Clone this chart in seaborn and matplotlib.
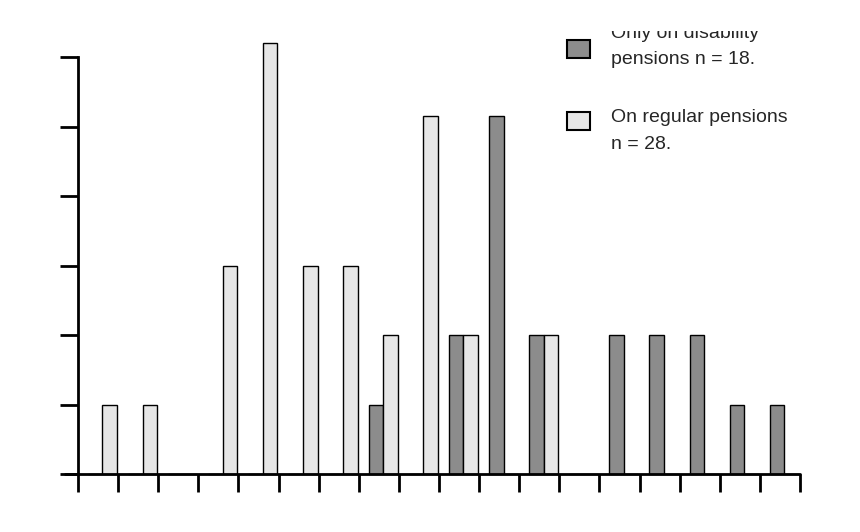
import matplotlib
matplotlib.use("Agg")
import matplotlib.pyplot as plt
import seaborn as sns
import pandas as pd
from matplotlib.patches import Rectangle

# counts per class
classes = list(range(18))
disability = [0, 0, 0, 0, 0, 0, 0, 1, 0, 2, 5.15, 2, 0, 2, 2, 2, 1, 1]
regular = [1, 1, 0, 3, 6.2, 3, 3, 2, 5.15, 2, 0, 2, 0, 0, 0, 0, 0, 0]
series = ["disability", "regular"]

df = pd.DataFrame({
    "cls": classes * 2,
    "value": disability + regular,
    "group": [series[0]] * 18 + [series[1]] * 18,
})

sns.set_style("white")
plt.rcParams["font.family"] = ["Liberation Sans", "DejaVu Sans"]

fig = plt.figure(figsize=(8.6, 5.32), dpi=100)
ax = fig.add_axes([78 / 860, 58 / 532, 722 / 860, 474 / 532])

sns.barplot(data=df, x="cls", y="value", hue="group", ax=ax,
            palette=["#8c8c8c", "#e6e6e6"], width=0.725,
            edgecolor="black", linewidth=1, legend=False, saturation=1)
for p in ax.patches:
    p.set_clip_on(False)

off = 0.61
ax.set_xlim(-off, 18 - off)
ax.set_ylim(0, 474 / 69.5)
ax.set_xticks([i - off for i in range(19)])
ax.set_xticklabels([])
ax.set_yticks(range(7))
ax.set_yticklabels([])
ax.tick_params(axis="both", direction="out", length=13, width=2, color="black",
               bottom=True, left=True)
for s in ["top", "right", "bottom"]:
    ax.spines[s].set_visible(False)
ax.spines["left"].set_linewidth(2)
ax.spines["left"].set_color("black")
ax.spines["left"].set_bounds(0, 6)
ax.axhline(0, xmin=-13 / 722, xmax=1, color="black", lw=2, clip_on=False)
ax.set_xlabel("")
ax.set_ylabel("")

# legend drawn by hand (partially cropped in the source)
def px(x, y):
    return x / 860, 1 - y / 532

fig.patches.append(Rectangle(px(567, 58), 23 / 860, 18 / 532, transform=fig.transFigure,
                             facecolor="#8c8c8c", edgecolor="black", lw=1.5))
fig.patches.append(Rectangle(px(567, 130), 23 / 860, 18 / 532, transform=fig.transFigure,
                             facecolor="#e6e6e6", edgecolor="black", lw=1.5))
fig.text(*px(611, 33), "Only on disability", fontsize=14, va="center")
fig.text(*px(611, 60), "pensions n = 18.", fontsize=14, va="center")
fig.text(*px(611, 118), "On regular pensions", fontsize=14, va="center")
fig.text(*px(611, 145), "n = 28.", fontsize=14, va="center")
# crop like the source
fig.patches.append(Rectangle((0, 1 - 31 / 532), 1, 31 / 532, transform=fig.transFigure,
                             facecolor="white", edgecolor="none", zorder=10))
fig.patches.append(Rectangle(px(806, 532), 54 / 860, 1, transform=fig.transFigure,
                             facecolor="white", edgecolor="none", zorder=10))

fig.savefig("out.png", dpi=100)
